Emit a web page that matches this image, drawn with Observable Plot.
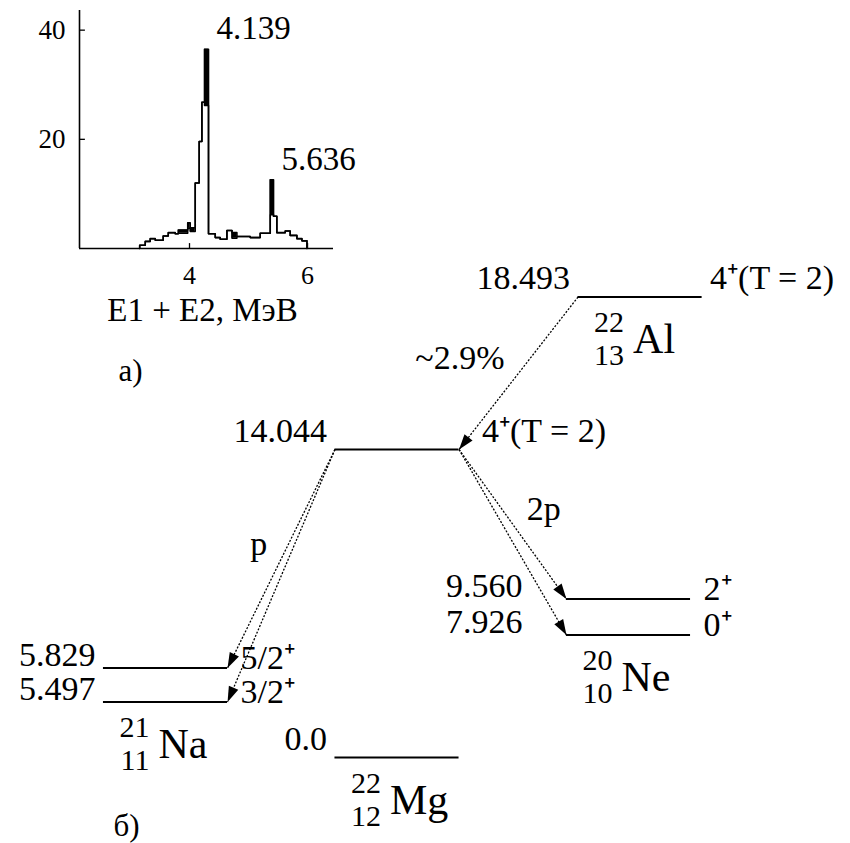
<!DOCTYPE html>
<html>
<head>
<meta charset="utf-8">
<script src="https://cdn.jsdelivr.net/npm/d3@7"></script>
<script src="https://cdn.jsdelivr.net/npm/@observablehq/plot@0.6"></script>
<style>
  html, body { margin: 0; padding: 0; background: #fff; }
  #chart { width: 850px; height: 843px; overflow: hidden; }
  #chart svg { display: block; background: transparent; }
</style>
</head>
<body>
<div id="chart"></div>
<script>
// ---------- (a) coincidence spectrum E1 + E2 ----------
const binEdges = [3.156, 3.25, 3.334, 3.42, 3.554, 3.64, 3.758, 3.81, 3.97, 4.012, 4.097,
  4.164, 4.21, 4.254, 4.322, 4.436, 4.52, 4.634, 4.72, 4.803, 5.029, 5.198, 5.368,
  5.424, 5.48, 5.622, 5.706, 5.82, 5.905, 5.99];
const countsAll = [0.6, 1.3, 1.8, 1.5, 2.3, 2.9, 2.7, 3.4, 4.7, 3.8, 12.0, 19.6, 26.8, 36.5,
  2.7, 2.0, 1.7, 3.3, 2.9, 2.2, 2.0, 2.8, 12.6, 5.9, 2.9, 3.2, 2.4, 1.8, 1.4];
const countsGated = [0.6, 1.3, 1.8, 1.5, 2.3, 2.9, 2.7, 2.8, 3.7, 3.1, 12.0, 19.6, 26.8, 26.2,
  2.7, 2.0, 1.7, 3.3, 1.9, 2.2, 2.0, 2.8, 6.2, 5.9, 2.9, 3.2, 2.4, 1.8, 1.4];
const peakLabels = ["4.139", "5.636"];
const xTicks = [4, 6];
const yTicks = [20, 40];
const spectrumTitle = "E1 + E2, МэВ";

// ---------- (б) level scheme ----------
const levelNuclide = ["22Al", "22Mg", "22Mg", "20Ne", "20Ne", "21Na", "21Na"];
const levelEnergy = [18.493, 14.044, 0.0, 9.560, 7.926, 5.829, 5.497];
const levelEnergyText = ["18.493", "14.044", "0.0", "9.560", "7.926", "5.829", "5.497"];
const levelSpin = ["4⁺(T = 2)", "4⁺(T = 2)", "", "2⁺", "0⁺", "5/2⁺", "3/2⁺"];

const nuclideId = ["21Na", "22Mg", "20Ne", "22Al"];
const nuclideMass = ["21", "22", "20", "22"];
const nuclideCharge = ["11", "12", "10", "13"];
const nuclideSymbol = ["Na", "Mg", "Ne", "Al"];

const transitionFrom = [0, 1, 1, 1, 1];
const transitionTo = [1, 5, 6, 3, 4];
const transitionLabel = ["~2.9%", "p", "", "2p", ""];

const fontFamily = "Liberation Serif, Tinos, Times New Roman, serif";
const container = document.getElementById("chart");

// ---------- spectrum ----------
const xMin = 2.136, xMax = 6.44;
const nBins = countsAll.length;
const spectrum = [{e: binEdges[0], all: 0, gated: 0}];
for (let i = 0; i < nBins; ++i) spectrum.push({e: binEdges[i], all: countsAll[i], gated: countsGated[i]});
spectrum.push({e: binEdges[nBins], all: 0, gated: 0});

// label the tall local maxima, at the right edge of their bin
const peaks = countsAll
  .map((v, i) => ({v, i}))
  .filter(({v, i}) => v > 10 && v > (countsAll[i - 1] ?? 0) && v > (countsAll[i + 1] ?? 0))
  .map((p, k) => ({x: binEdges[p.i + 1], y: p.v, label: peakLabels[k]}));

const spectrumPlot = Plot.plot({
  width: 370,
  height: 400,
  marginLeft: 79,
  marginRight: 37,
  marginTop: 10,
  marginBottom: 152,
  x: {domain: [xMin, xMax]},
  y: {domain: [0, 43.6]},
  marks: [
    Plot.areaY(spectrum, {x: "e", y1: "gated", y2: "all", curve: "step-after", fill: "black"}),
    Plot.lineY(spectrum, {x: "e", y: "gated", curve: "step-after", strokeWidth: 1.5, stroke: "black"}),
    Plot.lineY(spectrum, {x: "e", y: "all", curve: "step-after", strokeWidth: 1.6, stroke: "black"}),
    Plot.ruleY([0], {strokeWidth: 1.6, stroke: "black"}),
    Plot.ruleX([xMin], {strokeWidth: 1.6, stroke: "black"}),
    Plot.ruleX(xTicks, {y1: 0, y2: 0.9, strokeWidth: 1.3, stroke: "black"}),
    Plot.ruleY(yTicks, {x1: xMin, x2: xMin + 0.1, strokeWidth: 1.3, stroke: "black"}),
    Plot.axisX({ticks: xTicks, tickFormat: "d", tickSize: 0, tickPadding: 17, fontSize: 26,
      fontFamily, fill: "black", label: null}),
    Plot.axisY({ticks: yTicks, tickFormat: "d", tickSize: 0, tickPadding: 14, fontSize: 27,
      fontFamily, fill: "black", label: null}),
    Plot.text(peaks, {x: "x", y: "y", text: "label", textAnchor: "start", lineAnchor: "bottom",
      dx: 8, dy: -10, fontSize: 33, fontFamily, fill: "black"}),
    Plot.text([spectrumTitle], {frameAnchor: "bottom", lineAnchor: "bottom", dx: -4, dy: 72,
      fontSize: 33, fontFamily, fill: "black"}),
    Plot.text(["a)"], {frameAnchor: "bottom-left", textAnchor: "start", lineAnchor: "bottom",
      dx: 39, dy: 132, fontSize: 31, fontFamily, fill: "black"})
  ]
});
container.appendChild(spectrumPlot);

// ---------- level scheme ----------
// columns: 21Na left, 22Mg middle, 20Ne and 22Al right
const column = {"21Na": 0, "22Mg": 1, "20Ne": 2, "22Al": 2.05};
const halfWidth = 0.268;
// schematic (non-proportional) vertical placement of the levels
const energyDomain = [...levelEnergy].sort((a, b) => a - b);
const levelRows = [757, 701.5, 667.5, 634.5, 598.5, 449, 296.5];
const columnRange = [165, 628];
const X = d3.scaleLinear([0, 2], columnRange);
const Y = d3.scaleLinear(energyDomain, levelRows);

const levels = levelEnergy.map((energy, i) => {
  const c = column[levelNuclide[i]];
  return {energy, nuclide: levelNuclide[i], text: levelEnergyText[i], spin: levelSpin[i],
    c, x1: c - halfWidth, x2: c + halfWidth};
});

const transitions = transitionFrom.map((f, k) => {
  const a = levels[f], b = levels[transitionTo[k]];
  const leftward = b.c < a.c;
  const x1 = leftward ? a.x1 : a.x2;
  const x2 = leftward ? b.x2 : b.x1;
  const y1 = a.energy, y2 = b.energy;
  const px = X(x2) - X(x1), py = Y(y2) - Y(y1);
  return {
    x1, y1, x2, y2, leftward, label: transitionLabel[k],
    angle: Math.atan2(px, -py) * 180 / Math.PI,
    mx: (x1 + x2) / 2,
    my: Y.invert((Y(y1) + Y(y2)) / 2)
  };
});

for (const L of levels) {
  L.receivesLeft = transitions.some(t => t.x2 === L.x1 && t.y2 === L.energy);
  L.emitsRight = transitions.some(t => t.x1 === L.x2 && t.y1 === L.energy);
  L.crowded = levels.some(o => o !== L && o.nuclide === L.nuclide && Math.abs(Y(o.energy) - Y(L.energy)) < 40);
}

const nuclides = nuclideId.map((id, i) => {
  const low = levels.filter(l => l.nuclide === id).reduce((a, b) => (a.energy < b.energy ? a : b));
  return {mass: nuclideMass[i], charge: nuclideCharge[i], symbol: nuclideSymbol[i], x: column[id], y: low.energy};
});

// filled arrowhead with its tip at the origin, pointing up before rotation
const arrowHead = {
  draw(context, size) {
    const s = Math.sqrt(size);
    context.moveTo(0, 0);
    context.lineTo(-0.48 * s, 1.45 * s);
    context.lineTo(0.48 * s, 1.45 * s);
    context.closePath();
  }
};

const energyText = (filter, dx, dy) => Plot.text(levels, {
  filter, x: "x1", y: "energy", text: "text", textAnchor: "end", lineAnchor: "bottom",
  dx, dy, fontSize: 34, fontFamily, fill: "black"
});
const spinText = (filter, dx, dy) => Plot.text(levels, {
  filter: d => d.spin && filter(d), x: "x2", y: "energy", text: "spin", textAnchor: "start",
  lineAnchor: "bottom", dx, dy, fontSize: 34, fontFamily, fill: "black"
});

const schemePlot = Plot.plot({
  width: 850,
  height: 843,
  margin: 0,
  x: {type: "linear", domain: [0, 2], range: columnRange, axis: null},
  y: {type: "linear", domain: energyDomain, range: levelRows, axis: null},
  marks: [
    Plot.ruleY(levels, {y: "energy", x1: "x1", x2: "x2", strokeWidth: 1.8, stroke: "black"}),
    Plot.link(transitions, {x1: "x1", y1: "y1", x2: "x2", y2: "y2",
      strokeWidth: 1.3, strokeDasharray: "2,1.6", stroke: "black"}),
    Plot.dot(transitions, {x: "x2", y: "y2", rotate: "angle", symbol: arrowHead, r: 6,
      fill: "black", stroke: "none"}),

    energyText(d => !d.crowded, -8, -8),
    energyText(d => d.crowded && d.receivesLeft, -44, -2),
    energyText(d => d.crowded && !d.receivesLeft, -8, -2),

    spinText(d => !d.crowded && !d.emitsRight, 8, -8),
    spinText(d => !d.crowded && d.emitsRight, 23, -8),
    spinText(d => d.crowded, 13, 1),

    Plot.text(transitions, {filter: d => d.label && d.leftward, x: "mx", y: "my", text: "label",
      textAnchor: "end", lineAnchor: "bottom", dx: -14, dy: -4, fontSize: 34, fontFamily, fill: "black"}),
    Plot.text(transitions, {filter: d => d.label && !d.leftward, x: "mx", y: "my", text: "label",
      textAnchor: "start", lineAnchor: "bottom", dx: 14, dy: -4, fontSize: 34, fontFamily, fill: "black"}),

    Plot.text(nuclides, {x: "x", y: "y", text: "mass", textAnchor: "end", lineAnchor: "bottom",
      dx: -16, dy: 35, fontSize: 30, fontFamily, fill: "black"}),
    Plot.text(nuclides, {x: "x", y: "y", text: "charge", textAnchor: "end", lineAnchor: "bottom",
      dx: -16, dy: 68, fontSize: 30, fontFamily, fill: "black"}),
    Plot.text(nuclides, {x: "x", y: "y", text: "symbol", textAnchor: "start", lineAnchor: "bottom",
      dx: -7, dy: 56, fontSize: 42, fontFamily, fill: "black"}),

    Plot.text(["б)"], {frameAnchor: "bottom-left", textAnchor: "start", lineAnchor: "bottom",
      dx: 113, dy: -8, fontSize: 31, fontFamily, fill: "black"})
  ]
});
schemePlot.style.marginTop = "-400px";
container.appendChild(schemePlot);

// every label in both panels uses the serif face
for (const t of container.querySelectorAll("text")) {
  t.setAttribute("font-family", fontFamily);
  t.style.fontFamily = fontFamily;
}
</script>
</body>
</html>
